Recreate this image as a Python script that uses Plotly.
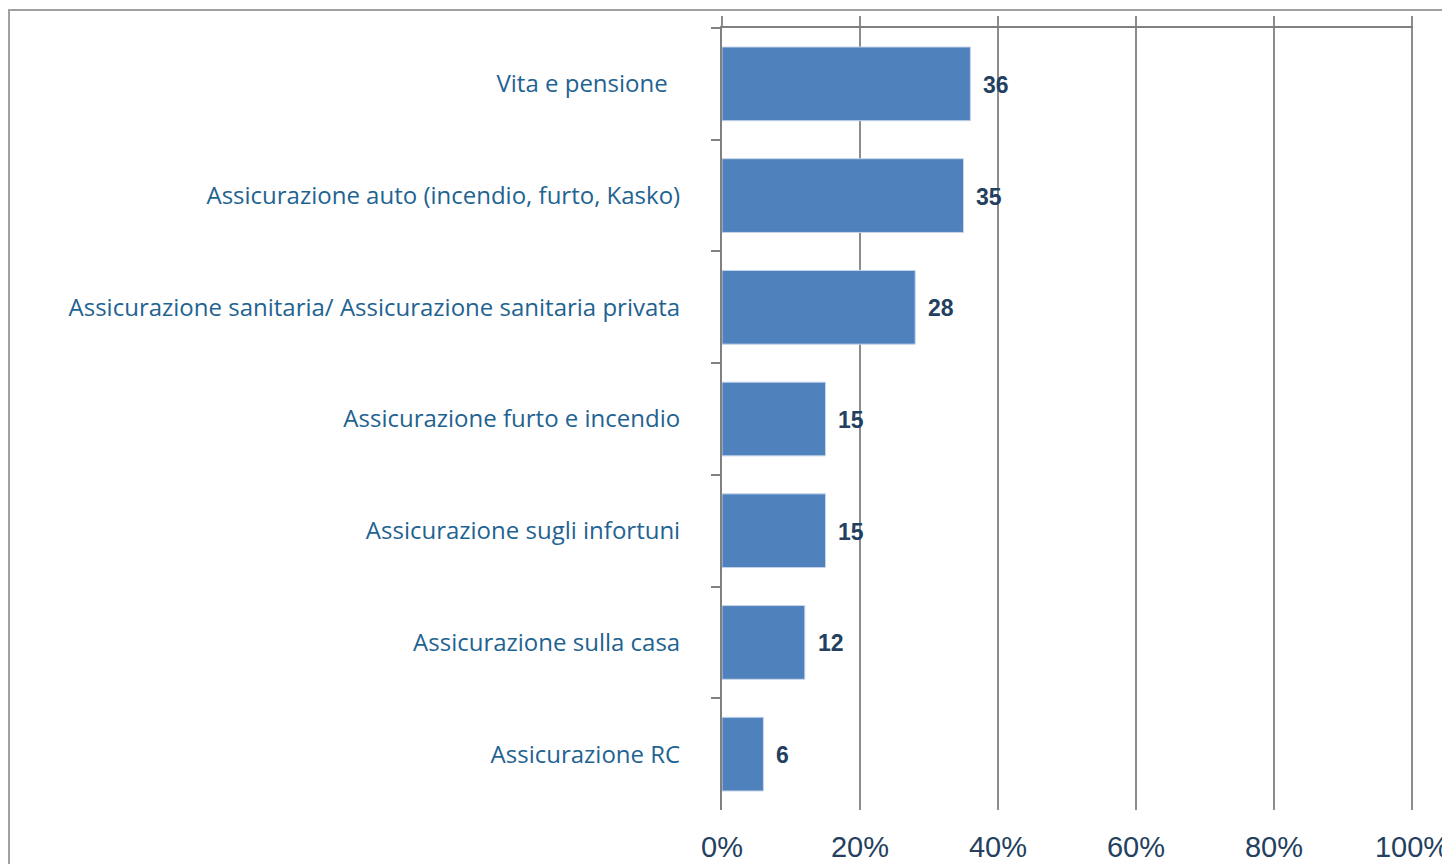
import plotly.graph_objects as go

# data, top to bottom as in the chart
categories = [
    "Vita e pensione\u00a0\u00a0",
    "Assicurazione auto (incendio, furto, Kasko)",
    "Assicurazione sanitaria/ Assicurazione sanitaria privata",
    "Assicurazione furto e incendio",
    "Assicurazione sugli infortuni",
    "Assicurazione sulla casa",
    "Assicurazione RC",
]
values = [36, 35, 28, 15, 15, 12, 6]
x_ticks = [0, 20, 40, 60, 80, 100]
x_tick_text = ["0%", "20%", "40%", "60%", "80%", "100%"]

BAR_COLOR = "#4F81BD"
LABEL_COLOR = "#1F6391"
NAVY = "#243F60"
GRID = "#8C8C8C"

fig = go.Figure()

fig.add_trace(
    go.Bar(
        x=values,
        y=categories,
        orientation="h",
        marker=dict(color=BAR_COLOR, line=dict(color="#C6D6EA", width=1)),
        hoverinfo="x+y",
    )
)

# invisible trace on the top axis so it gets drawn with its ticks
fig.add_trace(
    go.Scatter(x=[0, 100], y=[categories[0], categories[0]], xaxis="x2",
               mode="markers", marker=dict(opacity=0), hoverinfo="skip", showlegend=False)
)

for cat, v in zip(categories, values):
    fig.add_annotation(
        x=v, y=cat, text=str(v), showarrow=False,
        xanchor="left", xshift=11, yshift=-1,
        font=dict(family="Liberation Sans, Arial", size=23, color=NAVY, weight="bold"),
    )

# outer frame (top and left edges)
fig.add_shape(
    type="path", xref="paper", yref="paper",
    path="M -1.0318,-0.2 L -1.0318,1.023 L 1.2,1.023",
    line=dict(color="#A0A0A0", width=2),
)

X_RANGE = [0, 100.15]

# the page body adds an 8px offset, so the figure is sized to fit the window
fig.update_layout(
    width=1442,
    height=856,
    margin=dict(l=714, r=37, t=20, b=54),
    plot_bgcolor="white",
    paper_bgcolor="white",
    showlegend=False,
    bargap=0.34,
    xaxis=dict(
        range=X_RANGE,
        tickvals=x_ticks,
        ticktext=x_tick_text,
        showgrid=True,
        gridcolor=GRID,
        gridwidth=1.5,
        zeroline=False,
        showline=False,
        ticks="",
        automargin=False,
        ticklabeloverflow="allow",
        ticklabelstandoff=17,
        tickfont=dict(family="Liberation Sans, Arial", size=29, color=NAVY),
    ),
    xaxis2=dict(
        overlaying="x",
        side="top",
        range=X_RANGE,
        tickvals=x_ticks,
        showticklabels=False,
        showgrid=False,
        zeroline=False,
        showline=True,
        linecolor="#808080",
        linewidth=2,
        ticks="outside",
        ticklen=10,
        tickwidth=1.5,
        tickcolor=GRID,
        automargin=False,
    ),
    yaxis=dict(
        categoryorder="array",
        categoryarray=categories,
        autorange="reversed",
        showgrid=False,
        zeroline=False,
        showline=True,
        linecolor="#808080",
        linewidth=2,
        ticks="outside",
        tickson="boundaries",
        ticklen=9,
        tickwidth=1.5,
        tickcolor="#808080",
        automargin=False,
        ticklabelstandoff=35,
        tickfont=dict(family="Open Sans", size=24, color=LABEL_COLOR),
    ),
)

fig.write_html("out.html")
